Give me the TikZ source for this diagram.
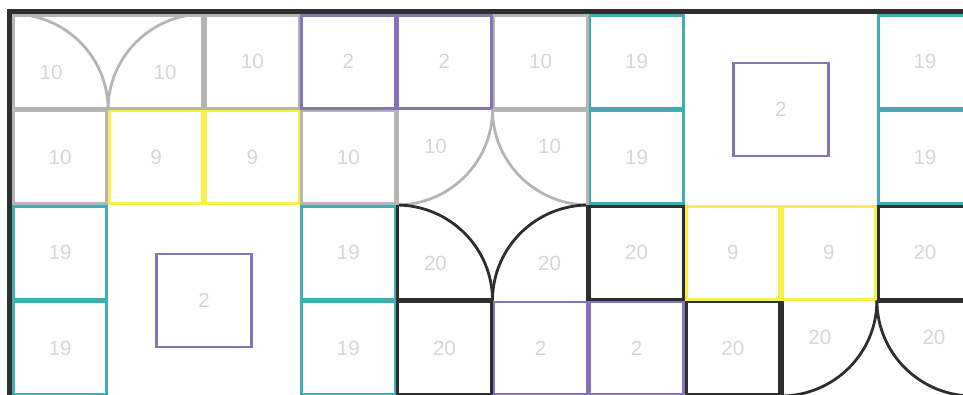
\documentclass[tikz,border=0pt]{standalone}
\usepackage{fontspec}
\setmainfont{Liberation Sans}
\usetikzlibrary{calc}

\definecolor{wallgray}{RGB}{181,181,181}
\definecolor{tileyellow}{RGB}{250,238,72}
\definecolor{tilepurple}{RGB}{133,116,186}
\definecolor{tileteal}{RGB}{63,173,177}
\definecolor{tiledark}{RGB}{46,46,46}
\definecolor{numgray}{RGB}{214,214,214}

\tikzset{
  cellline/.style={line width=1.6pt},
  cellnum/.style={text=numgray,font=\fontsize{11.7}{12}\selectfont,inner sep=0pt},
  outerwall/.style={tiledark,line width=2.6pt}
}

\begin{document}
\begin{tikzpicture}[x=0.2mm,y=-0.2mm]
  \useasboundingbox (0,0) rectangle (963,394);
  \clip (0,0) rectangle (963,394);
  % grid: origin (12,14), cell 96.1 x 95.5, borders sit half a line inside
  \def\gx{12}\def\gy{14}\def\cw{96.1}\def\ch{95.5}\def\ins{1.4}
  \foreach \i in {0,...,10} {
    \foreach \j in {0,...,4} {
      \coordinate (g\i-\j) at ({\gx+\i*\cw},{\gy+\j*\ch});
    }
  }
  % plain tiles: column/row/colour/number
  \foreach \c/\r/\col/\lab in {
      2/0/wallgray/10, 3/0/tilepurple/2, 4/0/tilepurple/2, 5/0/wallgray/10,
      6/0/tileteal/19, 9/0/tileteal/19,
      0/1/wallgray/10, 1/1/tileyellow/9, 2/1/tileyellow/9, 3/1/wallgray/10,
      6/1/tileteal/19, 9/1/tileteal/19,
      0/2/tileteal/19, 3/2/tileteal/19, 6/2/tiledark/20, 7/2/tileyellow/9,
      8/2/tileyellow/9, 9/2/tiledark/20,
      0/3/tileteal/19, 3/3/tileteal/19, 4/3/tiledark/20, 5/3/tilepurple/2,
      6/3/tilepurple/2, 7/3/tiledark/20} {
    \pgfmathsetmacro{\xa}{\gx+\c*\cw}
    \pgfmathsetmacro{\ya}{\gy+\r*\ch}
    \draw[cellline,\col] (\xa+\ins,\ya+\ins) rectangle (\xa+\cw-\ins,\ya+\ch-\ins);
    \node[cellnum] (n\c-\r) at (\xa+\cw/2,\ya+\ch/2) {\lab};
  }
  % door tiles: column/row/colour/number/hinge corner/arc angles
  \foreach \c/\r/\col/\lab/\hx/\hy/\sa/\ea in {
      0/0/wallgray/10/0/1/-90/0, 1/0/wallgray/10/1/1/-90/-180,
      4/1/wallgray/10/0/0/0/90, 5/1/wallgray/10/1/0/180/90,
      4/2/tiledark/20/0/1/-90/0, 5/2/tiledark/20/1/1/-90/-180,
      8/3/tiledark/20/0/0/0/90, 9/3/tiledark/20/1/0/180/90} {
    \pgfmathsetmacro{\xa}{\gx+\c*\cw}
    \pgfmathsetmacro{\ya}{\gy+\r*\ch}
    \pgfmathsetmacro{\sx}{\xa+\hx*\cw+cos(\sa)*\cw}
    \pgfmathsetmacro{\sy}{\ya+\hy*\ch+sin(\sa)*\ch}
    \draw[cellline,\col] (\sx,\sy)
      arc[start angle=\sa,end angle=\ea,x radius=\cw,y radius=\ch];
    \node[cellnum] (n\c-\r) at (\xa+\cw/2+18*\hx-9,\ya+\ch/2+22*\hy-11) {\lab};
  }
  % walls kept beside the doors
  \draw[cellline,wallgray] ($(g1-0)+(0,\ins)$) -- ($(g0-0)+(\ins,\ins)$)
    -- ($(g0-1)+(\ins,-\ins)$) -- ($(g1-1)+(0,-\ins)$);
  \draw[cellline,wallgray] ($(g1-0)+(0,\ins)$) -- ($(g2-0)+(-\ins,\ins)$)
    -- ($(g2-1)+(-\ins,-\ins)$) -- ($(g1-1)+(0,-\ins)$);
  \draw[cellline,wallgray] ($(g4-1)+(\ins,0)$) -- ($(g4-2)+(\ins,0)$);
  \draw[cellline,wallgray] ($(g5-1)+(0,\ins)$) -- ($(g6-1)+(-\ins,\ins)$)
    -- ($(g6-2)+(-\ins,0)$);
  \draw[cellline,tiledark] ($(g4-2)+(\ins,0)$) -- ($(g4-3)+(\ins,-\ins)$)
    -- ($(g5-3)+(0,-\ins)$);
  \draw[cellline,tiledark] ($(g6-2)+(-\ins,0)$) -- ($(g6-3)+(-\ins,0)$);
  \draw[cellline,tiledark] ($(g8-3)+(\ins,0)$) -- ($(g8-4)+(\ins,0)$);
  \draw[cellline,tiledark] ($(g9-3)+(0,\ins)$) -- ($(g10-3)+(-\ins,\ins)$)
    -- ($(g10-4)+(-\ins,0)$);
  % open rooms with a tile in the middle
  \draw[cellline,tilepurple] ($(g8-1)+(-47.5,-46.5)$) rectangle ($(g8-1)+(47.5,46.5)$);
  \node[cellnum] (room-a) at (g8-1) {2};
  \draw[cellline,tilepurple] ($(g2-3)+(-47.5,-46.5)$) rectangle ($(g2-3)+(47.5,46.5)$);
  \node[cellnum] (room-b) at (g2-3) {2};
  % outer wall
  \draw[outerwall] (9.7,400) -- (9.7,11.4) -- (975,11.4);
\end{tikzpicture}
\end{document}
